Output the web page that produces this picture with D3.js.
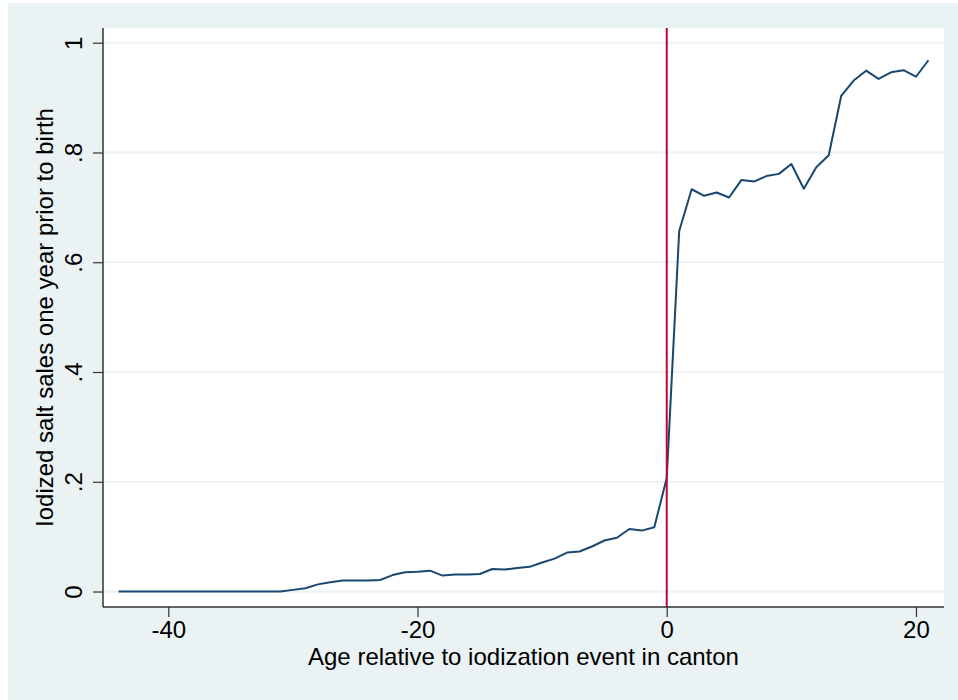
<!DOCTYPE html>
<html>
<head>
<meta charset="utf-8">
<script src="https://cdn.jsdelivr.net/npm/d3@7"></script>
<style>
  html, body { margin: 0; padding: 0; background: #fff; }
  svg { display: block; font-family: "Liberation Sans", Arial, sans-serif; }
</style>
</head>
<body>
<svg id="chart" width="958" height="700"></svg>
<script>
// age relative to iodization event
const ages = d3.range(-44, 22);
// iodized salt sales one year prior to birth
const sales = [
  0, 0, 0, 0, 0, 0, 0, 0, 0, 0, 0, 0, 0, 0,          // -44 .. -31
  0.003, 0.006, 0.013, 0.017, 0.020, 0.020, 0.020, 0.021, // -30 .. -23
  0.030, 0.035, 0.036, 0.038, 0.029, 0.031, 0.031, 0.032, // -22 .. -15
  0.041, 0.040, 0.043, 0.045, 0.053, 0.060, 0.071, 0.073, // -14 .. -7
  0.082, 0.093, 0.098, 0.114, 0.111, 0.117, 0.207,        // -6 .. 0
  0.657, 0.733, 0.721, 0.727, 0.718, 0.750, 0.747, 0.757, // 1 .. 8
  0.761, 0.779, 0.734, 0.773, 0.795, 0.903, 0.931, 0.949, // 9 .. 16
  0.934, 0.946, 0.950, 0.938, 0.968                       // 17 .. 21
];
const xTicks = [-40, -20, 0, 20];
const yTicks = [0, 0.2, 0.4, 0.6, 0.8, 1];
const yTickLabels = ["0", ".2", ".4", ".6", ".8", "1"];
const eventAge = 0;

const svg = d3.select('#chart');
const pL = 103, pR = 944, pT = 28, pB = 607;
const FONT = '"Liberation Sans", Arial, sans-serif';

svg.append('rect').attr('x', 8).attr('y', 3).attr('width', 950).attr('height', 697).attr('fill', '#eaf2f3');
svg.append('rect').attr('x', pL).attr('y', pT).attr('width', pR - pL).attr('height', pB - pT).attr('fill', '#fff');

const x = d3.scaleLinear().domain([-45.24, 22.25]).range([pL, pR]);
const y = d3.scaleLinear().domain([-0.0282, 1.0268]).range([pB, pT]);

// gridlines
svg.append('g').selectAll('line').data(yTicks).enter().append('line')
  .attr('x1', pL).attr('x2', pR)
  .attr('y1', d => y(d)).attr('y2', d => y(d))
  .attr('stroke', '#eaf2f3').attr('stroke-width', 2);

// series
const line = d3.line().x((d, i) => x(ages[i])).y(d => y(d));
svg.append('path').datum(sales).attr('d', line)
  .attr('fill', 'none').attr('stroke', '#1a476f').attr('stroke-width', 2)
  .attr('stroke-linejoin', 'round');

// event line
svg.append('line')
  .attr('x1', x(eventAge)).attr('x2', x(eventAge)).attr('y1', pT).attr('y2', pB)
  .attr('stroke', '#c10534').attr('stroke-width', 2);

// axes
const yAxis = d3.axisLeft(y).tickValues(yTicks).tickFormat((d, i) => yTickLabels[i]).tickSize(10).tickPadding(0);
const yg = svg.append('g').attr('transform', 'translate(' + pL + ',0)').call(yAxis);
yg.select('.domain').attr('stroke', '#333').attr('stroke-width', 1.5).attr('d', 'M0,' + pT + 'V' + pB);
yg.selectAll('.tick line').attr('stroke', '#333').attr('stroke-width', 1.2);
yg.selectAll('.tick text')
  .attr('font-size', 24).attr('fill', '#000').attr('font-family', FONT)
  .attr('text-anchor', 'middle').attr('dy', 0).attr('x', 0).attr('y', 0)
  .attr('transform', 'translate(-21,0) rotate(-90)');

const xAxis = d3.axisBottom(x).tickValues(xTicks).tickFormat(d => d < 0 ? '-' + Math.abs(d) : String(d)).tickSize(10).tickPadding(0);
const xg = svg.append('g').attr('transform', 'translate(0,' + pB + ')').call(xAxis);
xg.select('.domain').attr('stroke', '#333').attr('stroke-width', 1.5).attr('d', 'M' + pL + ',0H' + pR);
xg.selectAll('.tick line').attr('stroke', '#333').attr('stroke-width', 1.2);
xg.selectAll('.tick text')
  .attr('font-size', 24).attr('fill', '#000').attr('font-family', FONT)
  .attr('dy', 0).attr('y', 31);

// titles
svg.append('text').attr('x', (pL + pR) / 2).attr('y', 665)
  .attr('text-anchor', 'middle').attr('font-size', 24).attr('fill', '#000').attr('font-family', FONT)
  .text('Age relative to iodization event in canton');
svg.append('text')
  .attr('transform', 'translate(53,' + (pT + pB) / 2 + ') rotate(-90)')
  .attr('text-anchor', 'middle').attr('font-size', 24).attr('fill', '#000').attr('font-family', FONT)
  .text('Iodized salt sales one year prior to birth');
</script>
</body>
</html>
